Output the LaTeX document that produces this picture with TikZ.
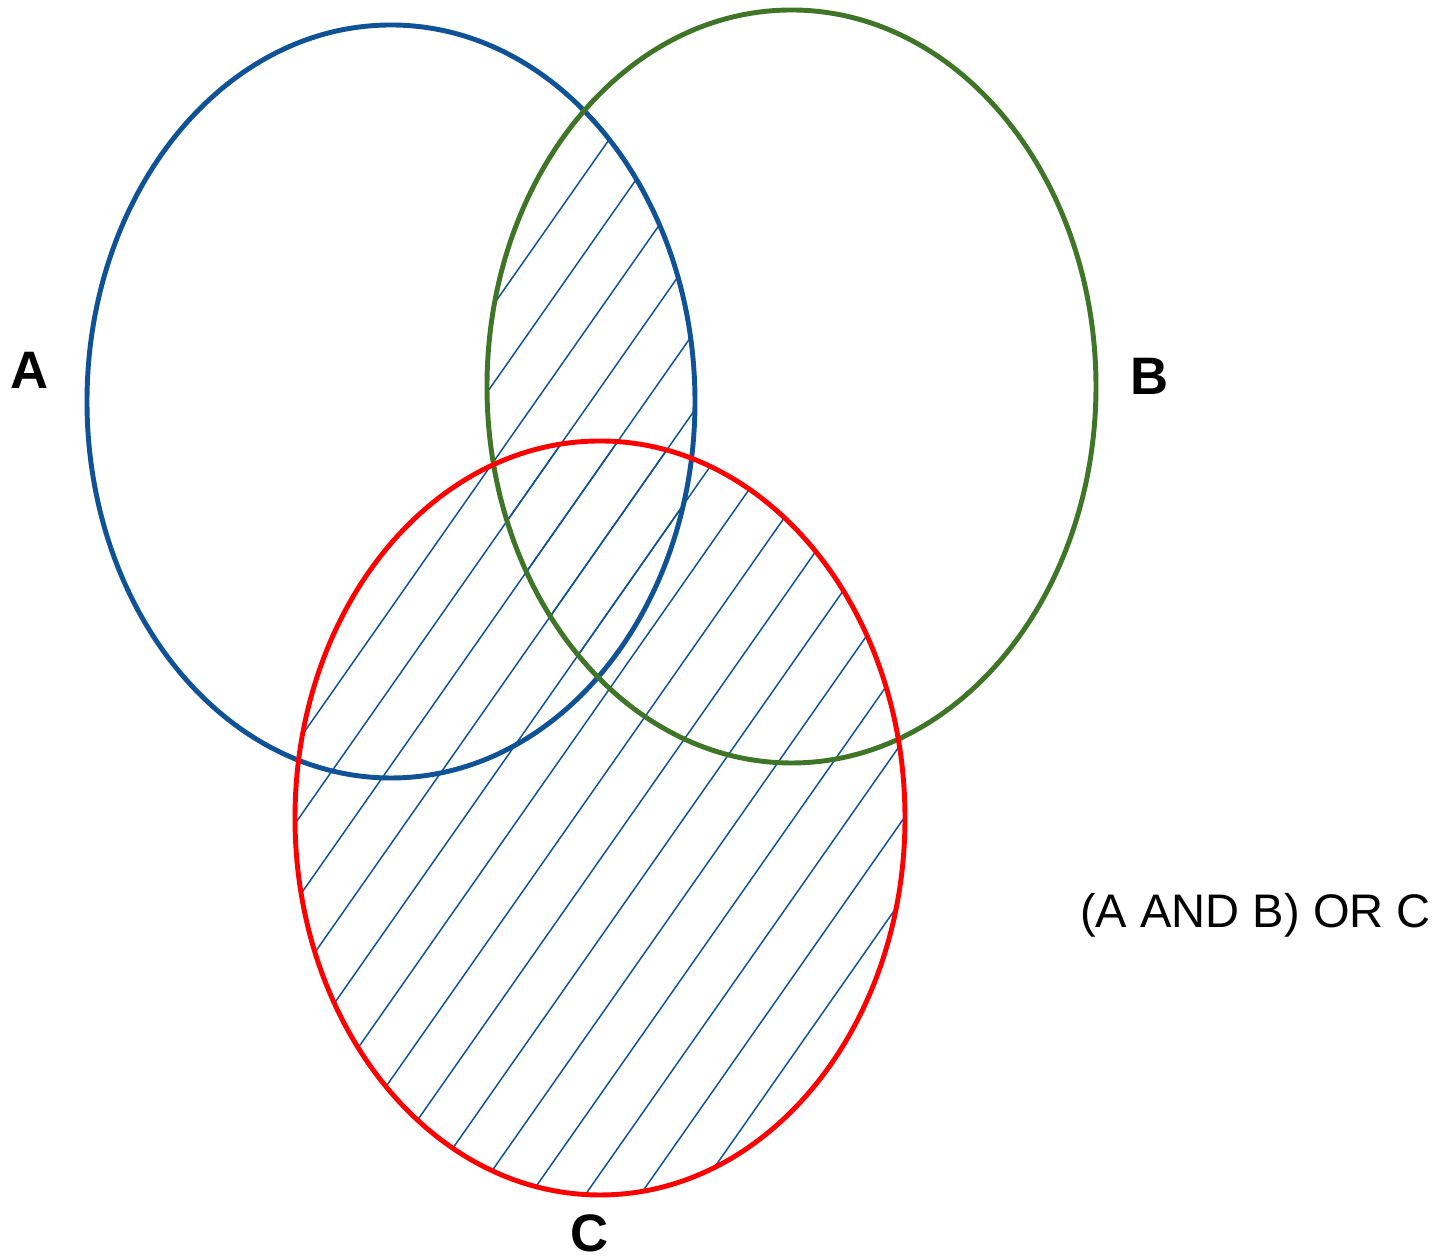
\documentclass[tikz,border=0pt]{standalone}
\usepackage{fontspec}
\setmainfont{Liberation Sans}
\definecolor{ablue}{RGB}{16,82,150}
\definecolor{bgreen}{RGB}{62,117,38}
\definecolor{cred}{RGB}{255,0,0}
\newcommand\myhatch{%
  \foreach \k in {-26,...,12}{%
    \draw[hatch] ({4.786+0.55*\k-9*cos(55)},{-11.90-9*sin(55)}) -- ({4.786+0.55*\k+16*cos(55)},{-11.90+16*sin(55)});
  }%
}
\begin{document}
\begin{tikzpicture}[
  venn/.style={line width=1.4pt},
  hatch/.style={draw=ablue, line width=0.42pt},
  biglabel/.style={font=\fontsize{15}{18}\selectfont\bfseries, text=black, inner sep=0pt},
  exprlabel/.style={font=\fontsize{13.4}{16}\selectfont, text=black, inner sep=0pt}
]
\useasboundingbox[fill=white] (0,0) rectangle (14.39,-12.57);
% hatching in C
\begin{scope}
  \clip (6.00,-8.18) ellipse [x radius=3.05, y radius=3.77];
  \myhatch
\end{scope}
% hatching in A and B
\begin{scope}
  \clip (3.91,-4.015) ellipse [x radius=3.04, y radius=3.765];
  \clip (7.915,-3.865) ellipse [x radius=3.045, y radius=3.765];
  \myhatch
\end{scope}
% ellipses
\draw[venn, draw=ablue] (3.91,-4.015) ellipse [x radius=3.04, y radius=3.765];
\draw[venn, draw=bgreen] (7.915,-3.865) ellipse [x radius=3.045, y radius=3.765];
\draw[venn, draw=cred] (6.00,-8.18) ellipse [x radius=3.05, y radius=3.77];
% labels
\node[biglabel] (la) at (0.30,-3.70) {A};
\node[biglabel] (lb) at (11.50,-3.76) {B};
\node[biglabel] (lc) at (5.90,-12.33) {C};
\node[exprlabel] (expr) at (12.555,-9.15) {(A AND B) OR C};
\end{tikzpicture}
\end{document}
